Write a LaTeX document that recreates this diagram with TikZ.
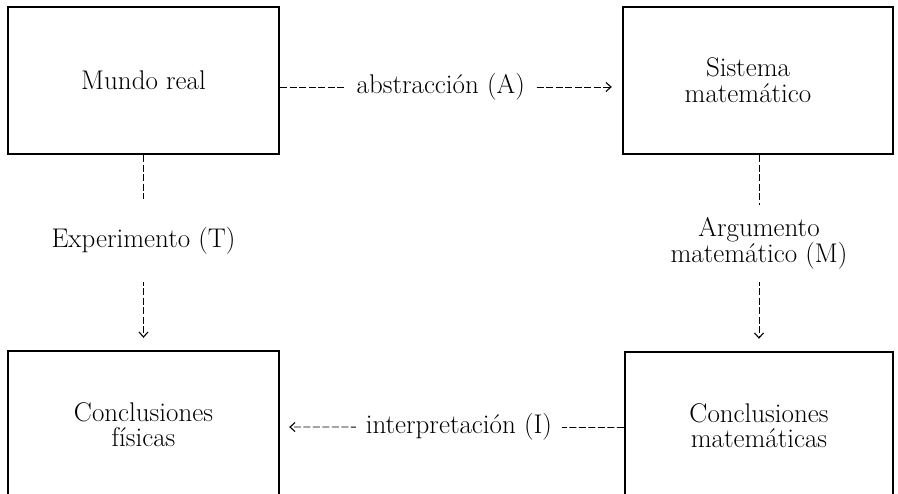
\documentclass[tikz,border=0pt]{standalone}
\usetikzlibrary{arrows.meta}
\begin{document}
\begin{tikzpicture}[x=1pt,y=-1pt,
  box/.style={draw, line width=2.4pt, inner sep=0pt, align=center},
  txt/.style={font=\fontsize{27}{#1}\selectfont},
  conn/.style={line width=0.8pt, dash pattern=on 7pt off 2.5pt,
    -{Straight Barb[length=5pt,width=9pt,line width=1.1pt]}},
  lbl/.style={fill=white, inner sep=9pt, align=center}]
\clip (0,0) rectangle (898,494);
\node[box, minimum width=271pt, minimum height=147pt, txt=27] (mr) at (143.5,80.5) {Mundo real};
\node[box, minimum width=270pt, minimum height=147pt, txt=26] (sm) at (758,80.5) {\hspace*{-20pt}Sistema\\\hspace*{-20pt}matemático};
\node[box, minimum width=271pt, minimum height=148pt, txt=25] (cf) at (143.5,425) {Conclusiones\\físicas};
\node[box, minimum width=268pt, minimum height=147pt, txt=25] (cm) at (759,425.5) {Conclusiones\\matemáticas};
\draw[conn, shorten >=10pt] ([yshift=-6.5pt]mr.east) -- ([yshift=-6.5pt]sm.west)
  node[lbl, txt=27, pos=0.47, inner xsep=10pt] (la) {abstracción (A)};
\draw[conn, shorten >=12pt] (mr.south) -- (cf.north)
  node[lbl, txt=27, pos=0.44, inner ysep=28pt] (lt) {Experimento (T)};
\draw[conn, shorten >=12pt] ([xshift=1pt]sm.south) -- (cm.north)
  node[lbl, txt=24, pos=0.45, inner ysep=12pt] (lm) {Argumento\\matemático (M)};
\draw[conn, shorten >=9pt] ([yshift=-2pt]cm.west) -- ([yshift=-2pt]cf.east)
  node[lbl, txt=27, pos=0.48, inner xsep=10pt] (li) {interpretación (I)};
\end{tikzpicture}
\end{document}
